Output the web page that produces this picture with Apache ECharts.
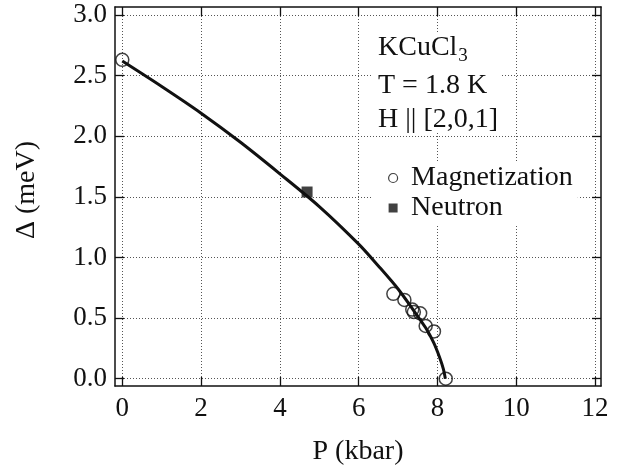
<!DOCTYPE html>
<html>
<head>
<meta charset="utf-8">
<style>
  html, body { margin: 0; padding: 0; background: #fff; }
  #chart { width: 623px; height: 472px; }
</style>
<script src="https://cdn.jsdelivr.net/npm/echarts@6/dist/echarts.min.js"></script>
</head>
<body>
<div id="chart"></div>
<script>
// tick positions
var xTicks = [0, 2, 4, 6, 8, 10, 12];
var yTicks = [0, 0.5, 1.0, 1.5, 2.0, 2.5, 3.0];

// magnetization points (open circles)
var magP = [0, 6.88, 7.16, 7.36, 7.40, 7.56, 7.70, 7.91, 8.21];
var magGap = [2.63, 0.70, 0.65, 0.57, 0.55, 0.54, 0.435, 0.39, 0.0];

// neutron point (filled square)
var neutronP = [4.69];
var neutronGap = [1.54];

// fitted curve
var fitP = [0, 1, 2, 3, 4, 5, 6, 6.5, 7, 7.4, 7.7, 7.9, 8.05, 8.15, 8.2];
var fitGap = [2.62, 2.41, 2.19, 1.95, 1.69, 1.42, 1.11, 0.93, 0.74, 0.56, 0.42, 0.30, 0.18, 0.08, 0.0];

function pairs(xs, ys) {
  return xs.map(function(x, i) { return [x, ys[i]]; });
}

(function() {
  var font = '"Liberation Serif", "Times New Roman", serif';
  var ink = '#111';
  var grid = '#555';

  function axis(pos, ticks, min, max, main, fmt) {
    return {
      type: 'value',
      position: pos,
      min: min,
      max: max,
      axisLine: { show: true, onZero: false, lineStyle: { color: ink, width: 1.5 } },
      axisTick: { show: true, inside: true, length: 9, customValues: ticks, lineStyle: { color: ink, width: 1.3 } },
      axisLabel: {
        show: main,
        customValues: ticks,
        color: ink,
        fontFamily: font,
        fontSize: 27,
        margin: pos === 'left' ? 8 : 9,
        formatter: fmt
      },
      splitLine: { show: main, lineStyle: { color: grid, width: 1, type: [1, 2] } }
    };
  }

  var xMain = axis('bottom', xTicks, -0.185, 12.15, true, function(v) { return String(v); });
  xMain.name = 'P (kbar)';
  xMain.nameLocation = 'middle';
  xMain.nameGap = 52;
  xMain.nameTextStyle = { color: ink, fontFamily: font, fontSize: 28 };

  var chart = echarts.init(document.getElementById('chart'), null, { renderer: 'canvas' });
  chart.setOption({
    animation: false,
    backgroundColor: '#fff',
    grid: { left: 115, right: 22, top: 7, bottom: 86 },
    xAxis: [
      xMain,
      axis('top', xTicks, -0.185, 12.15, false)
    ],
    yAxis: [
      axis('left', yTicks, -0.06, 3.066, true, function(v) { return v.toFixed(1); }),
      axis('right', yTicks, -0.06, 3.066, false)
    ],
    legend: {
      orient: 'vertical',
      left: 373,
      top: 161,
      padding: [3, 5, 2, 15],
      backgroundColor: '#fff',
      itemWidth: 26,
      itemHeight: 9,
      itemGap: 2,
      textStyle: { color: ink, fontFamily: font, fontSize: 28 },
      data: [
        { name: 'Magnetization', icon: 'circle', itemStyle: { color: '#fff', borderColor: ink, borderWidth: 1.2 } },
        { name: 'Neutron', icon: 'path://M0,0L10,0L10,10L0,10Z', itemStyle: { color: ink } }
      ]
    },
    graphic: [
      { type: 'rect', z: 5, shape: { x: 373, y: 33, width: 127, height: 100 }, style: { fill: '#fff' } },
      {
        type: 'text', z: 6, x: 378, y: 47.7,
        style: {
          text: '{a|KCuCl}{s|3}',
          verticalAlign: 'middle',
          rich: {
            a: { fontFamily: font, fontSize: 28, fill: ink },
            s: { fontFamily: font, fontSize: 19, fill: ink, padding: [16, 0, 0, 1] }
          }
        }
      },
      { type: 'text', z: 6, x: 378, y: 86, style: { text: 'T = 1.8 K', fontFamily: font, fontSize: 28, fill: ink, verticalAlign: 'middle' } },
      { type: 'text', z: 6, x: 378, y: 119.3, style: { text: 'H || [2,0,1]', fontFamily: font, fontSize: 28, fill: ink, verticalAlign: 'middle' } },
      {
        type: 'text', z: 6, x: 27, y: 190, rotation: Math.PI / 2,
        style: { text: 'Δ (meV)', fontFamily: font, fontSize: 28, fill: ink, align: 'center', verticalAlign: 'middle' }
      }
    ],
    series: [
      {
        name: 'fit',
        type: 'line',
        data: pairs(fitP, fitGap),
        showSymbol: false,
        smooth: 0.3,
        silent: true,
        z: 3,
        lineStyle: { color: ink, width: 3 }
      },
      {
        name: 'Magnetization',
        type: 'scatter',
        data: pairs(magP, magGap),
        symbol: 'circle',
        symbolSize: 13,
        z: 2,
        itemStyle: { color: 'rgba(0,0,0,0)', borderColor: ink, borderWidth: 1.5 }
      },
      {
        name: 'Neutron',
        type: 'scatter',
        data: pairs(neutronP, neutronGap),
        symbol: 'rect',
        symbolSize: 11,
        z: 2,
        itemStyle: { color: ink }
      }
    ]
  });
  window.addEventListener('resize', function() { chart.resize(); });
})();
</script>
</body>
</html>
